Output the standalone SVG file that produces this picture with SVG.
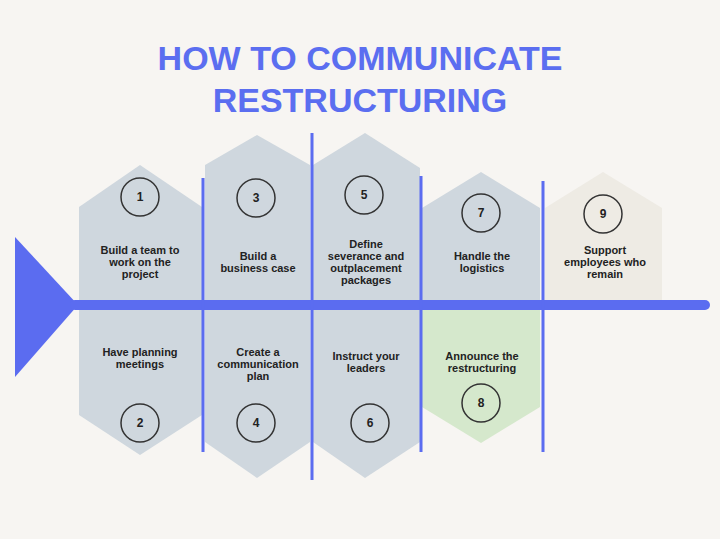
<svg xmlns="http://www.w3.org/2000/svg" width="720" height="539" viewBox="0 0 720 539">
<style>
.t{font-family:"Liberation Sans",Arial,sans-serif;font-weight:bold;font-size:11px;fill:#222;text-anchor:middle}
.n{font-family:"Liberation Sans",Arial,sans-serif;font-weight:bold;font-size:12px;fill:#222;text-anchor:middle}
.c{fill:none;stroke:#333;stroke-width:1.5}
.g{fill:#cfd7de}
.b{stroke:#5b6cf0;stroke-width:3;fill:none}
.ti{font-family:"Liberation Sans",Arial,sans-serif;font-weight:bold;font-size:34px;fill:#5b6ef0;text-anchor:middle}
</style>
<rect width="720" height="539" fill="#f7f5f2"/>
<text class="ti" x="360" y="70">HOW TO COMMUNICATE</text>
<text class="ti" x="360" y="112">RESTRUCTURING</text>
<g id="n1"><polygon class="g" points="79,207 140,165 202,207 202,300 79,300"/><circle class="c" cx="140" cy="197" r="19"/><text class="n" x="140" y="201">1</text><text class="t" x="140" y="254">Build a team to</text><text class="t" x="140" y="266">work on the</text><text class="t" x="140" y="278">project</text></g>
<g id="n3"><polygon class="g" points="205,165 257,135 310,165 310,300 205,300"/><circle class="c" cx="256" cy="198" r="19"/><text class="n" x="256" y="202">3</text><text class="t" x="258" y="260">Build a</text><text class="t" x="258" y="272">business case</text></g>
<g id="n5"><polygon class="g" points="313,165 365,133 420,168 420,300 313,300"/><circle class="c" cx="364" cy="195" r="19"/><text class="n" x="364" y="199">5</text><text class="t" x="366" y="248">Define</text><text class="t" x="366" y="260">severance and</text><text class="t" x="366" y="272">outplacement</text><text class="t" x="366" y="284">packages</text></g>
<g id="n7"><polygon class="g" points="422,208 481,172 540,208 540,300 422,300"/><circle class="c" cx="481" cy="213" r="19"/><text class="n" x="481" y="217">7</text><text class="t" x="482" y="260">Handle the</text><text class="t" x="482" y="272">logistics</text></g>
<g id="n9"><polygon fill="#eeebe4" points="545,208 603,172 662,208 662,300 545,300"/><circle class="c" cx="603" cy="214" r="19"/><text class="n" x="603" y="218">9</text><text class="t" x="605" y="254">Support</text><text class="t" x="605" y="266">employees who</text><text class="t" x="605" y="278">remain</text></g>
<g id="n2"><polygon class="g" points="79,310 202,310 202,415 140,455 79,415"/><circle class="c" cx="140" cy="423" r="19"/><text class="n" x="140" y="427">2</text><text class="t" x="140" y="356">Have planning</text><text class="t" x="140" y="368">meetings</text></g>
<g id="n4"><polygon class="g" points="205,310 310,310 310,442 257,478 205,442"/><circle class="c" cx="256" cy="423" r="19"/><text class="n" x="256" y="427">4</text><text class="t" x="258" y="356">Create a</text><text class="t" x="258" y="368">communication</text><text class="t" x="258" y="380">plan</text></g>
<g id="n6"><polygon class="g" points="313,310 420,310 420,442 365,478 313,442"/><circle class="c" cx="370" cy="423" r="19"/><text class="n" x="370" y="427">6</text><text class="t" x="366" y="360">Instruct your</text><text class="t" x="366" y="372">leaders</text></g>
<g id="n8"><polygon fill="#d5e8cc" points="422,310 540,310 540,407 481,443 422,407"/><circle class="c" cx="481" cy="403" r="19"/><text class="n" x="481" y="407">8</text><text class="t" x="482" y="360">Announce the</text><text class="t" x="482" y="372">restructuring</text></g>
<g id="connectors">
<polygon fill="#5b6cf0" points="15,237 78,305 15,377"/>
<line x1="75" y1="305" x2="705" y2="305" stroke="#5b6cf0" stroke-width="10" stroke-linecap="round"/>
<line class="b" x1="203" y1="178" x2="203" y2="452"/>
<line class="b" x1="312" y1="133" x2="312" y2="480"/>
<line class="b" x1="421" y1="176" x2="421" y2="452"/>
<line class="b" x1="543" y1="181" x2="543" y2="452"/>
</g>
</svg>
